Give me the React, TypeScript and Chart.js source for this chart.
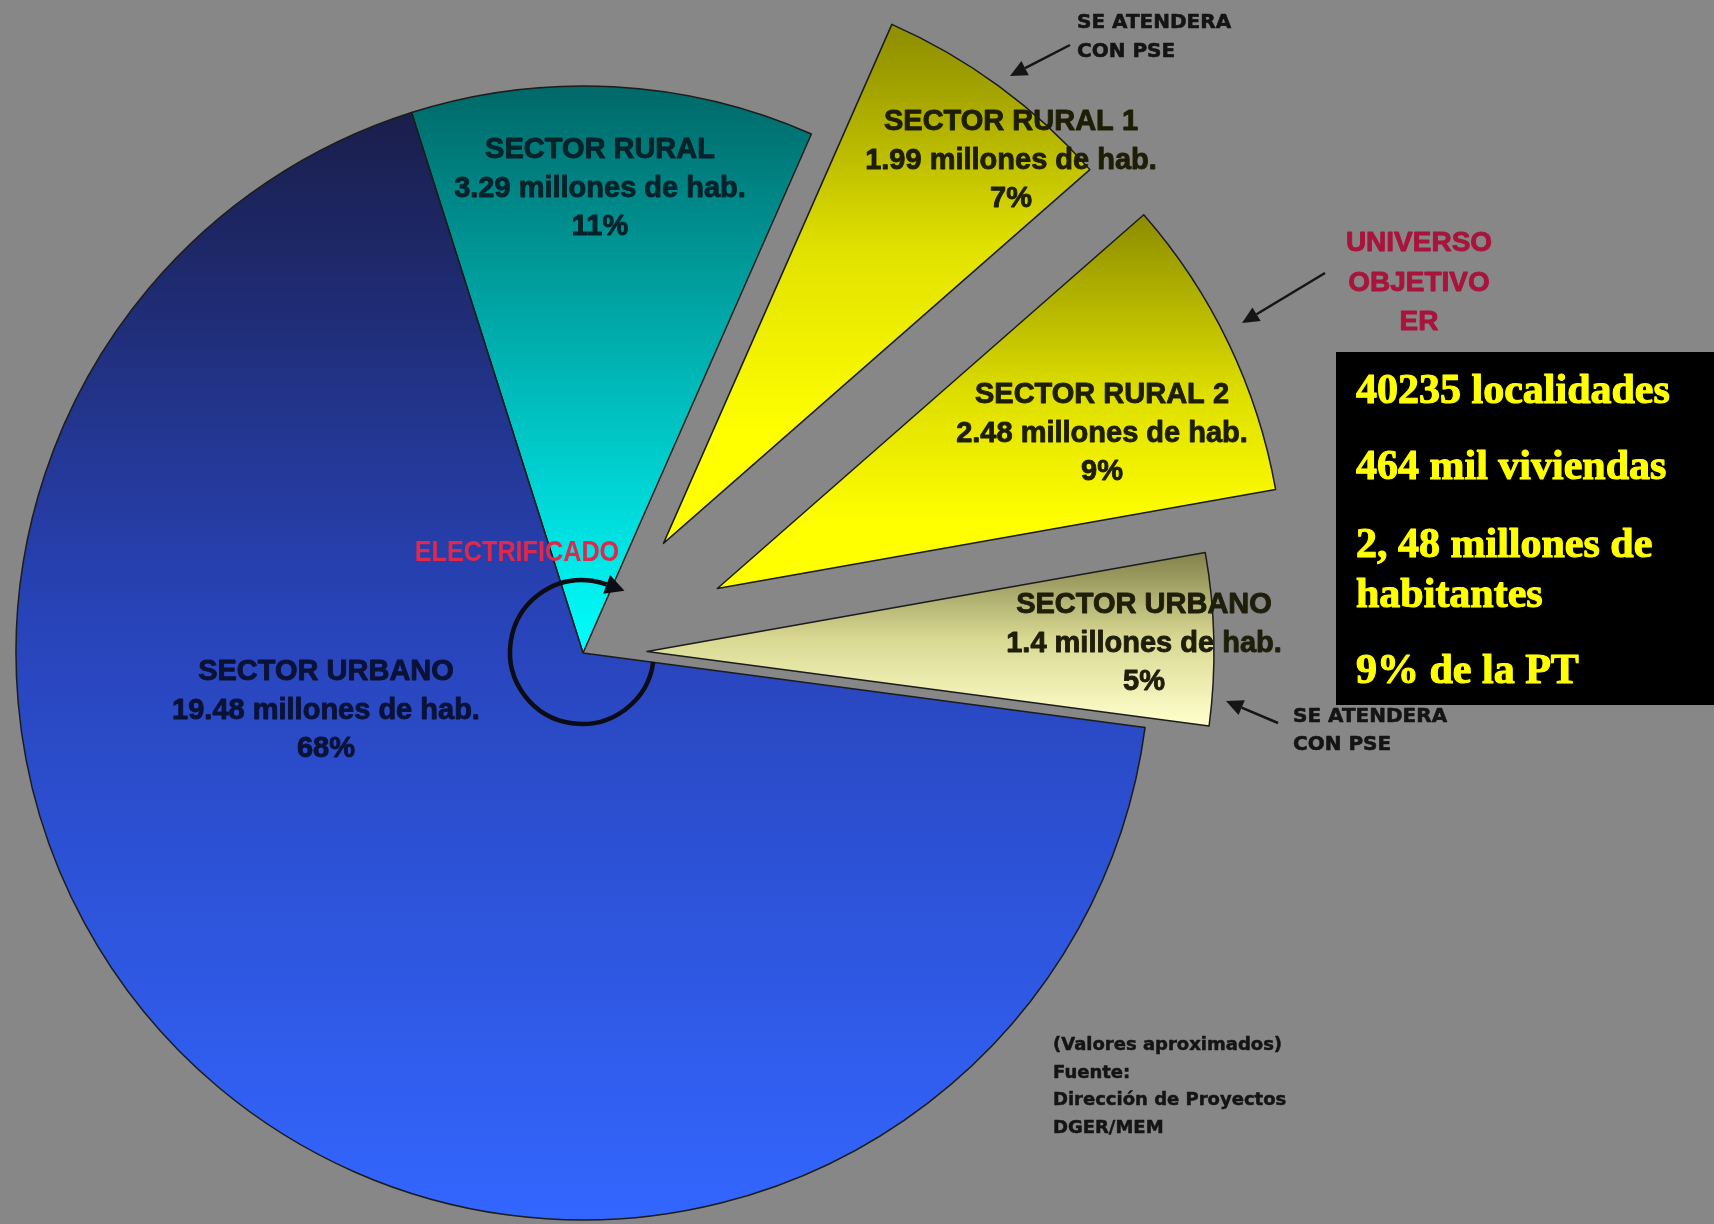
import React, { useEffect, useRef } from 'react';
import { Chart, registerables } from 'chart.js';

Chart.register(...registerables);

// ---------- DATA ----------
const categories = ['SECTOR RURAL', 'SECTOR RURAL 1', 'SECTOR RURAL 2', 'SECTOR URBANO', 'SECTOR URBANO'];
const populationMillions = [3.29, 1.99, 2.48, 1.4, 19.48];
const percentLabels = ['11%', '7%', '9%', '5%', '68%'];
const infoLines = ['40235 localidades', '464 mil viviendas', '2, 48 millones de', 'habitantes', '9% de la PT'];
const sourceLines = ['(Valores aproximados)', 'Fuente:', 'Dirección de Proyectos', 'DGER/MEM'];
const pseLines = ['SE ATENDERA', 'CON PSE'];
const targetLines = ['UNIVERSO', 'OBJETIVO', 'ER'];
const electrifiedLabel = 'ELECTRIFICADO';

// ---------- STYLE / LAYOUT ----------
const W = 1714;
const H = 1224;
const BG = '#878787';
const CX = 583;
const CY = 653;
const R = 567;
const ROTATION = -17.6;
const EXPLODE = [0, 136, 149, 64, 0];
const GRADIENTS: [number, string][][] = [
  [[0, '#006868'], [0.4, '#00a6a6'], [1, '#00ffff']],
  [[0, '#6c6c00'], [0.3, '#9c9c00'], [0.65, '#e2e200'], [1, '#ffff00']],
  [[0, '#6c6c00'], [0.3, '#a2a200'], [0.65, '#dede00'], [1, '#ffff00']],
  [[0, '#80804a'], [0.5, '#d8d892'], [1, '#ffffcc']],
  [[0, '#1a1e4a'], [0.45, '#2843b8'], [1, '#3366ff']],
];
const LABEL_POS = [
  [600, 150],
  [1011, 122],
  [1102, 395],
  [1144, 605],
  [326, 672],
];
const LABEL_COLORS = ['#06222a', '#1e1e04', '#1e1e04', '#1e1e0a', '#0a1236'];
const LABEL_GAP = 38.5;
const LABEL_FONT = "bold 29px 'Liberation Sans', Arial, sans-serif";

function sliceAngles(i: number): [number, number] {
  const total = populationMillions.reduce((a, b) => a + b, 0);
  let a = -Math.PI / 2 + (ROTATION * Math.PI) / 180;
  for (let j = 0; j < i; j++) a += (2 * Math.PI * populationMillions[j]) / total;
  return [a, a + (2 * Math.PI * populationMillions[i]) / total];
}

function sliceGradient(context: any) {
  const chart = context.chart;
  const i = context.dataIndex;
  const stops = GRADIENTS[i];
  const area = chart.chartArea;
  if (!area) return stops[stops.length - 1][1];
  const cy = (area.top + area.bottom) / 2;
  const [a0, a1] = sliceAngles(i);
  const mid = (a0 + a1) / 2;
  const oy = cy + EXPLODE[i] * Math.sin(mid);
  let ymin = oy;
  let ymax = oy;
  for (let k = 0; k <= 80; k++) {
    const a = a0 + ((a1 - a0) * k) / 80;
    const y = oy + R * Math.sin(a);
    if (y < ymin) ymin = y;
    if (y > ymax) ymax = y;
  }
  const g = chart.ctx.createLinearGradient(0, ymin, 0, ymax);
  stops.forEach(([o, c]) => g.addColorStop(o, c));
  return g;
}

function heavyText(ctx: CanvasRenderingContext2D, s: string, x: number, y: number, stroke: number) {
  ctx.fillText(s, x, y);
  if (stroke > 0) {
    ctx.lineWidth = stroke;
    ctx.strokeStyle = ctx.fillStyle as string;
    ctx.lineJoin = 'round';
    ctx.strokeText(s, x, y);
  }
}

function arrow(ctx: CanvasRenderingContext2D, x1: number, y1: number, x2: number, y2: number) {
  const ang = Math.atan2(y2 - y1, x2 - x1);
  const head = 17;
  const half = 8;
  const bx = x2 - Math.cos(ang) * head;
  const by = y2 - Math.sin(ang) * head;
  ctx.save();
  ctx.strokeStyle = '#151515';
  ctx.fillStyle = '#151515';
  ctx.lineWidth = 2.5;
  ctx.beginPath();
  ctx.moveTo(x1, y1);
  ctx.lineTo(bx, by);
  ctx.stroke();
  ctx.beginPath();
  ctx.moveTo(x2, y2);
  ctx.lineTo(bx - Math.sin(ang) * half, by + Math.cos(ang) * half);
  ctx.lineTo(bx + Math.sin(ang) * half, by - Math.cos(ang) * half);
  ctx.closePath();
  ctx.fill();
  ctx.restore();
}

const explodePlugin = {
  id: 'explodeDraw',
  beforeDatasetDraw(chart: any, args: any) {
    const ctx = chart.ctx;
    args.meta.data.forEach((el: any, i: number) => {
      const mid = (el.startAngle + el.endAngle) / 2;
      ctx.save();
      ctx.translate(Math.cos(mid) * EXPLODE[i], Math.sin(mid) * EXPLODE[i]);
      el.draw(ctx, chart.chartArea);
      ctx.restore();
    });
    return false;
  },
};

const annotationPlugin = {
  id: 'annotations',
  afterDraw(chart: any) {
    const ctx: CanvasRenderingContext2D = chart.ctx;
    const area = chart.chartArea;
    const cx = (area.left + area.right) / 2 - 1;
    const cy = (area.top + area.bottom) / 2 - 1;

    // circular arrow around the center
    ctx.save();
    const cr = 72;
    const aStart = (8 * Math.PI) / 180;
    const aEnd = (290 * Math.PI) / 180;
    ctx.strokeStyle = '#0c0c14';
    ctx.fillStyle = '#0c0c14';
    ctx.lineWidth = 4.5;
    ctx.beginPath();
    ctx.arc(cx, cy, cr, aStart, aEnd, false);
    ctx.stroke();
    const px = cx + cr * Math.cos(aEnd);
    const py = cy + cr * Math.sin(aEnd);
    const tx = -Math.sin(aEnd);
    const ty = Math.cos(aEnd);
    const nx = Math.cos(aEnd);
    const ny = Math.sin(aEnd);
    ctx.beginPath();
    ctx.moveTo(px + tx * 19, py + ty * 19);
    ctx.lineTo(px + nx * 10, py + ny * 10);
    ctx.lineTo(px - nx * 10, py - ny * 10);
    ctx.closePath();
    ctx.fill();
    ctx.restore();

    // slice labels
    ctx.save();
    ctx.textAlign = 'center';
    ctx.textBaseline = 'middle';
    ctx.font = LABEL_FONT;
    categories.forEach((cat, i) => {
      const [x, y] = LABEL_POS[i];
      ctx.fillStyle = LABEL_COLORS[i];
      const lines = [cat, `${populationMillions[i]} millones de hab.`, percentLabels[i]];
      lines.forEach((s, k) => heavyText(ctx, s, x, y + k * LABEL_GAP, 0.9));
    });
    ctx.restore();

    // ELECTRIFICADO (condensed red text)
    ctx.save();
    ctx.translate(517, 553);
    ctx.scale(0.84, 1);
    ctx.font = "bold 30px 'Liberation Sans', Arial, sans-serif";
    ctx.fillStyle = '#e0284a';
    ctx.textAlign = 'center';
    ctx.textBaseline = 'middle';
    ctx.fillText(electrifiedLabel, 0, 0);
    ctx.restore();

    // UNIVERSO OBJETIVO ER
    ctx.save();
    ctx.font = "bold 28px 'Liberation Sans', Arial, sans-serif";
    ctx.fillStyle = '#a8143c';
    ctx.textAlign = 'center';
    ctx.textBaseline = 'middle';
    const ty0 = [243, 283, 322];
    targetLines.forEach((s, k) => heavyText(ctx, s, 1419, ty0[k], 0.9));
    ctx.restore();

    // small notes
    ctx.save();
    ctx.font = "bold 20px 'DejaVu Sans', sans-serif";
    ctx.fillStyle = '#141414';
    ctx.textAlign = 'left';
    ctx.textBaseline = 'middle';
    heavyText(ctx, pseLines[0], 1077, 23, 0.6);
    heavyText(ctx, pseLines[1], 1077, 52, 0.6);
    heavyText(ctx, pseLines[0], 1293, 717, 0.6);
    heavyText(ctx, pseLines[1], 1293, 745, 0.6);
    ctx.font = "bold 18px 'DejaVu Sans', sans-serif";
    const sy = [1045, 1073, 1100, 1128];
    sourceLines.forEach((s, k) => heavyText(ctx, s, 1053, sy[k], 0.5));
    ctx.restore();

    // arrows
    arrow(ctx, 1070, 45, 1010, 76);
    arrow(ctx, 1325, 273, 1242, 323);
    arrow(ctx, 1278, 723, 1226, 701);

    // black info box
    ctx.save();
    ctx.fillStyle = '#000000';
    ctx.fillRect(1336, 352, W - 1336, 353);
    ctx.font = "bold 42px 'Liberation Serif', 'Times New Roman', serif";
    ctx.fillStyle = '#ffff00';
    ctx.textAlign = 'left';
    ctx.textBaseline = 'alphabetic';
    const by = [403, 479, 557, 607, 683];
    infoLines.forEach((s, k) => heavyText(ctx, s, 1356, by[k], 1.1));
    ctx.restore();
  },
};

export default function App() {
  const ref = useRef<HTMLCanvasElement>(null);
  useEffect(() => {
    if (!ref.current) return;
    const chart = new Chart(ref.current, {
      type: 'pie',
      data: {
        labels: categories.map((c, i) => `${c} ${percentLabels[i]}`),
        datasets: [
          {
            data: populationMillions,
            backgroundColor: sliceGradient as any,
            borderColor: '#1c1c1c',
            borderWidth: 1.5,
            borderJoinStyle: 'round',
          } as any,
        ],
      },
      options: {
        responsive: false,
        animation: false,
        events: [],
        rotation: ROTATION,
        radius: R,
        layout: { padding: { left: 0, right: W - 2 * CX, top: 2 * CY - H, bottom: 0 } },
        plugins: {
          legend: { display: false },
          tooltip: { enabled: false },
          title: { display: false },
        },
      } as any,
      plugins: [explodePlugin, annotationPlugin],
    });
    return () => chart.destroy();
  }, []);
  return (
    <div style={{ position: 'fixed', left: 0, top: 0, width: W, height: H, background: BG, overflow: 'hidden' }}>
      <canvas ref={ref} width={W} height={H} style={{ display: 'block', width: W, height: H }} />
    </div>
  );
}
